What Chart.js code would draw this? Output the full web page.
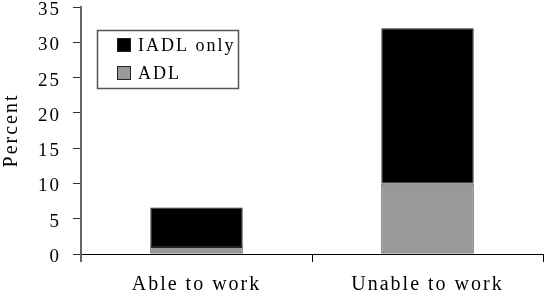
<!DOCTYPE html>
<html>
<head>
<meta charset="utf-8">
<script src="https://cdn.jsdelivr.net/npm/chart.js@4/dist/chart.umd.min.js"></script>
<style>
  html, body { margin: 0; padding: 0; background: #fff; }
  #wrap { width: 544px; height: 300px; }
</style>
</head>
<body>
<div id="wrap"><canvas id="chart"></canvas></div>
<script>
// categories and series values
const categories = ['Able to work', 'Unable to work'];
const adlValues = [1.0, 10.0];
const iadlOnlyValues = [5.6, 22.0];
const yTicks = [0, 5, 10, 15, 20, 25, 30, 35];

const serif = '"Liberation Serif", "Times New Roman", serif';

// draws the boxed legend inside the plot, IADL only on top
const boxLegend = {
    id: 'boxLegend',
    afterDraw(chart) {
        const ctx = chart.ctx;
        const area = chart.chartArea;
        const left = area.left + 16;
        const top = area.top + 23;
        const w = 141, h = 58;
        ctx.save();
        ctx.fillStyle = '#fff';
        ctx.fillRect(left, top, w, h);
        ctx.strokeStyle = '#555';
        ctx.lineWidth = 1.5;
        ctx.strokeRect(left + 0.5, top + 0.5, w, h);
        ctx.lineWidth = 1;
        ctx.font = '18px ' + serif;
        ctx.letterSpacing = '2px';
        ctx.textBaseline = 'middle';
        const items = chart.data.datasets.slice().reverse();
        items.forEach((ds, i) => {
            const cy = top + 15 + i * 28;
            ctx.fillStyle = ds.backgroundColor;
            ctx.fillRect(left + 20, cy - 7, 14, 14);
            ctx.strokeStyle = '#222';
            ctx.strokeRect(left + 20.5, cy - 6.5, 13, 13);
            ctx.fillStyle = '#000';
            ctx.fillText(ds.label, left + 41, cy + 1);
        });
        ctx.restore();
    }
};

// letter spacing on all chart text, like the original figure
const spacedText = {
    id: 'spacedText',
    beforeDraw(chart) {
        chart.ctx.letterSpacing = '2px';
    }
};

// keep the axes from pushing the plot area in
function noPadding(scale) {
    scale.paddingTop = 0;
    scale.paddingBottom = 0;
    scale.paddingLeft = 0;
    scale.paddingRight = 0;
}

new Chart(document.getElementById('chart'), {
    type: 'bar',
    data: {
        labels: categories,
        datasets: [
            {
                label: 'ADL',
                data: adlValues,
                backgroundColor: '#999999',
                borderColor: '#222',
                borderWidth: 1,
                borderSkipped: false
            },
            {
                label: 'IADL only',
                data: iadlOnlyValues,
                backgroundColor: '#000000',
                borderColor: '#222',
                borderWidth: 1,
                borderSkipped: false
            }
        ]
    },
    options: {
        responsive: true,
        maintainAspectRatio: false,
        animation: false,
        layout: { padding: { top: 7, right: 1, left: 0, bottom: 0 } },
        datasets: { bar: { categoryPercentage: 1.0, barPercentage: 0.4 } },
        plugins: {
            legend: { display: false },
            tooltip: { enabled: false }
        },
        scales: {
            x: {
                stacked: true,
                grid: {
                    drawOnChartArea: false,
                    offset: true,
                    tickLength: 8,
                    // first tick continues the grey y axis line
                    color: ctx => ctx.index === 0 ? '#666' : '#000',
                    lineWidth: ctx => ctx.index === 0 ? 2 : 1
                },
                border: { color: '#000' },
                ticks: { color: '#000', font: { family: serif, size: 20 }, padding: 11, maxRotation: 0 },
                afterFit(scale) { scale.height = 46; noPadding(scale); }
            },
            y: {
                stacked: true,
                min: 0,
                max: 35,
                afterBuildTicks(scale) { scale.ticks = yTicks.map(v => ({ value: v })); },
                grid: { drawOnChartArea: false, tickLength: 8, color: '#333' },
                border: { color: '#666', width: 2 },
                ticks: { color: '#000', font: { family: serif, size: 19 }, padding: 12, labelOffset: 3 },
                title: {
                    display: true,
                    text: 'Percent',
                    color: '#000',
                    font: { family: serif, size: 20 },
                    padding: { top: 0, bottom: 0 }
                },
                afterFit(scale) { scale.width = 81; noPadding(scale); }
            }
        }
    },
    plugins: [spacedText, boxLegend]
});
</script>
</body>
</html>
